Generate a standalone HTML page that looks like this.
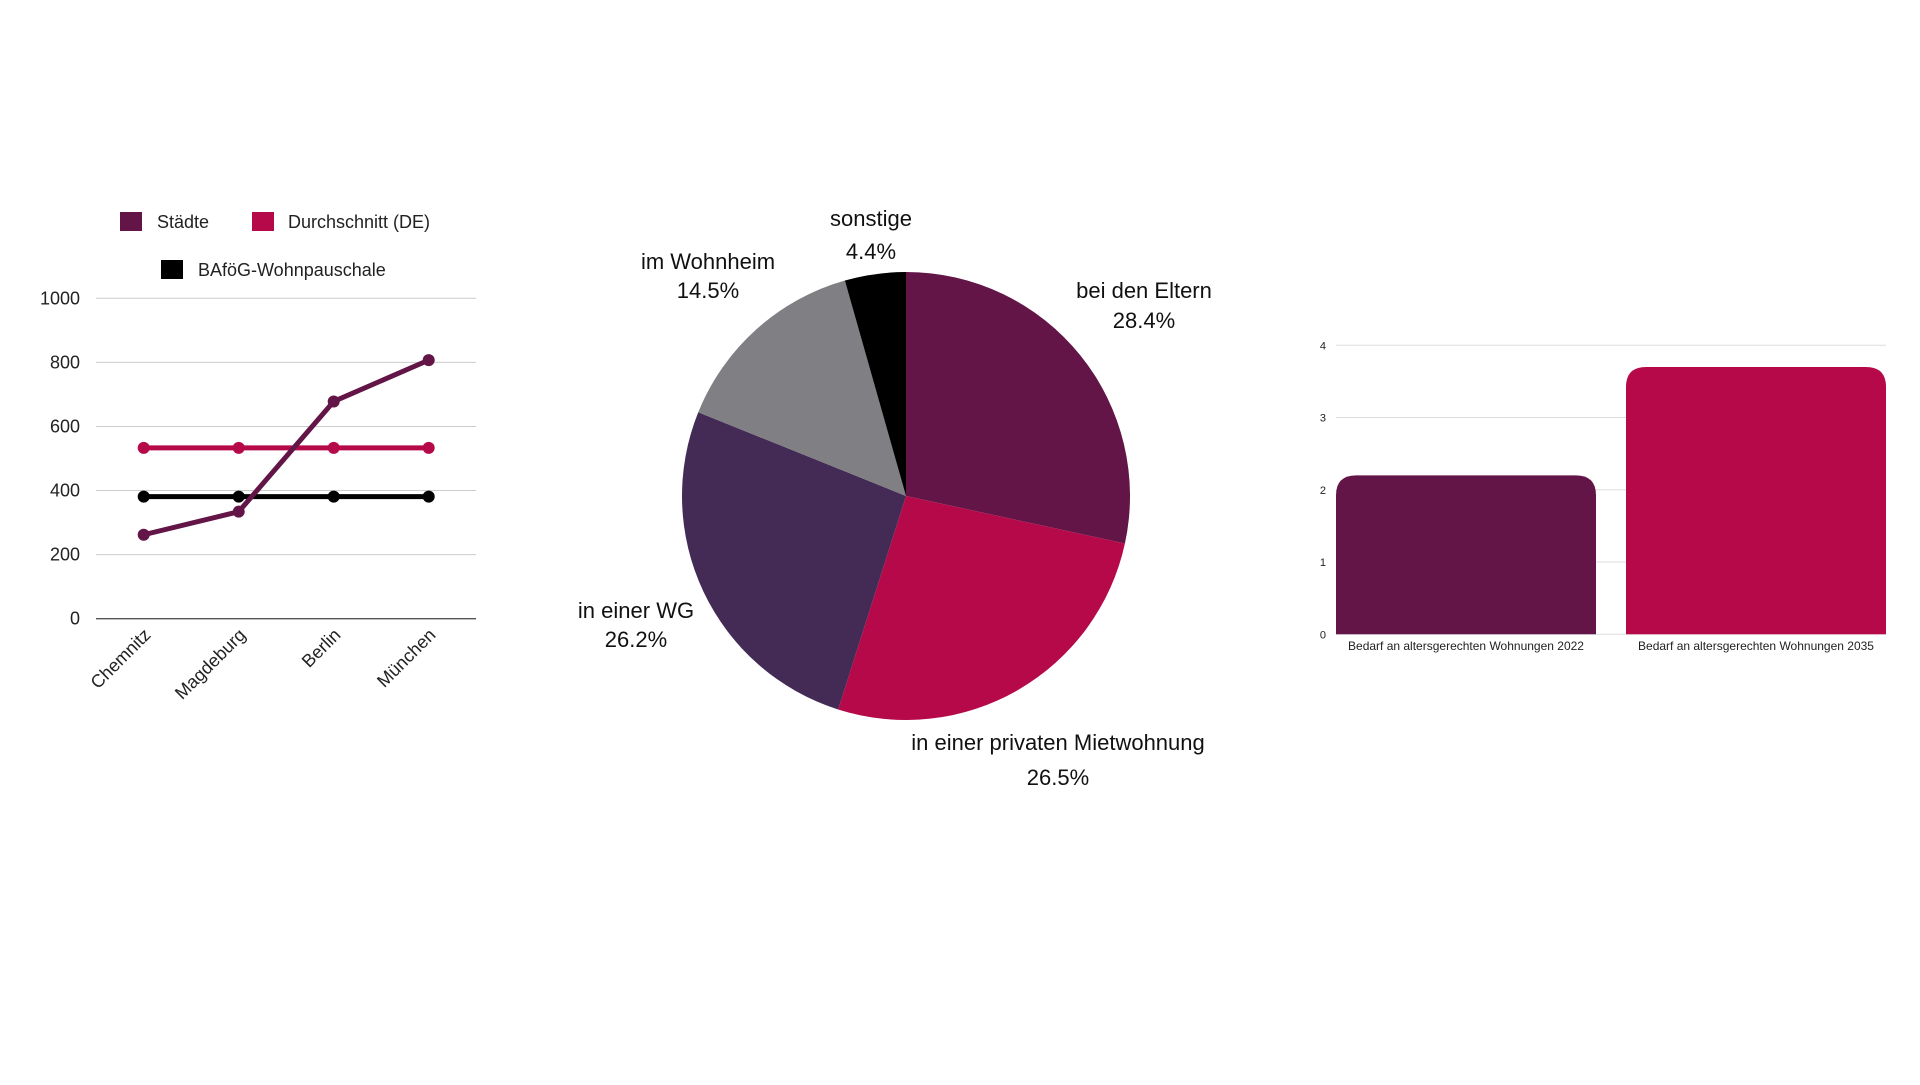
<!DOCTYPE html>
<html><head><meta charset="utf-8"><style>
body{margin:0;background:#fff;width:1920px;height:1080px;overflow:hidden;font-family:"Liberation Sans","DejaVu Sans",sans-serif}
</style></head><body>
<svg id="s" width="1920" height="1080" xmlns="http://www.w3.org/2000/svg" font-family="Liberation Sans, DejaVu Sans, sans-serif">
<g id="line"></g>
<g id="pie"></g>
<g id="bar"></g>
</svg>
<script>
const cities=["Chemnitz","Magdeburg","Berlin","München"];
const staedte=[262,334,678,807];
const durchschnitt=[533,533,533,533];
const bafoeg=[381,381,381,381];
const lineTicks=[0,200,400,600,800,1000];
const pieLabels=["bei den Eltern","in einer privaten Mietwohnung","in einer WG","im Wohnheim","sonstige"];
const pieValues=[28.4,26.5,26.2,14.5,4.4];
const barCats=["Bedarf an altersgerechten Wohnungen 2022","Bedarf an altersgerechten Wohnungen 2035"];
const barValues=[2.2,3.7];
const barTicks=[0,1,2,3,4];

const NS="http://www.w3.org/2000/svg";
function mk(p,t,a,txt){const e=document.createElementNS(NS,t);for(const k in a)e.setAttribute(k,a[k]);if(txt!=null)e.textContent=txt;p.appendChild(e);return e;}

// line chart
const L=document.getElementById('line');
const ly=v=>618.7-(v/1000)*320.4;
const lx=i=>143.7+i*95;
lineTicks.forEach(t=>{
 const g=mk(L,'line',{x1:96,x2:476,y1:ly(t),y2:ly(t),stroke:t===0?'#555':'#ccc','stroke-width':t===0?1.3:1});
 
 
 const tx=mk(L,'text',{x:80,y:ly(t)+6,'text-anchor':'end','font-size':18,fill:'#222'},t);
 
 
});
cities.forEach((c,i)=>{
 const tx=mk(L,'text',{x:lx(i)+8,y:636,'text-anchor':'end','font-size':18,fill:'#222',transform:`rotate(-45 ${lx(i)+8} 636)`},c);
 
 
});
[[bafoeg,'#000','bafoeg'],[durchschnitt,'#b5094a','durchschnitt'],[staedte,'#621546','staedte']].forEach(([arr,col,n])=>{
 const pl=mk(L,'polyline',{points:arr.map((v,i)=>lx(i)+','+ly(v)).join(' '),fill:'none',stroke:col,'stroke-width':5,'stroke-linejoin':'round'});
 
 
 arr.forEach((v,i)=>{
  const c=mk(L,'circle',{cx:lx(i),cy:ly(v),r:6,fill:col});
  
  
 });
});
[[120,212,'#621546',157,'Städte'],[252,212,'#b5094a',288,'Durchschnitt (DE)'],[161,260,'#000',198,'BAföG-Wohnpauschale']].forEach(([x,y,col,tx,t],i)=>{
 const r=mk(L,'rect',{x:x,y:y,width:22,height:19,fill:col});
 
 
 const e=mk(L,'text',{x:tx,y:y+16,'font-size':18,fill:'#222'},t);
 
 
});

// pie
const P=document.getElementById('pie');
const pieColors=["#621546","#b5094a","#432b55","#808084","#000000"];
const cx=906,cy=496,R=224;
const tot=pieValues.reduce((a,b)=>a+b,0);
let a0=0;
pieValues.forEach((v,i)=>{
 const a1=a0+v/tot*2*Math.PI;
 const p=(a)=>[cx+R*Math.sin(a),cy-R*Math.cos(a)];
 const [x0,y0]=p(a0),[x1,y1]=p(a1);
 const path=mk(P,'path',{d:`M${cx},${cy} L${x0},${y0} A${R},${R} 0 ${a1-a0>Math.PI?1:0} 1 ${x1},${y1} Z`,fill:pieColors[i]});
 
 
 a0=a1;
});
const pieLabelPos=[[1144,298,328],[1058,750,785],[636,618,647],[708,269,298],[871,226,259]];
pieLabels.forEach((l,i)=>{
 const [x,y1,y2]=pieLabelPos[i];
 const t=mk(P,'text',{x:x,y:y1,'text-anchor':'middle','font-size':22,fill:'#111'},l);
 
 
 const t2=mk(P,'text',{x:x,y:y2,'text-anchor':'middle','font-size':22,fill:'#111'},pieValues[i].toFixed(1)+'%');
 
 
});

// bar
const B=document.getElementById('bar');
const by=v=>634.3-v*72.25;
barTicks.forEach(t=>{
 const g=mk(B,'line',{x1:1336,x2:1886,y1:by(t),y2:by(t),stroke:'#ddd','stroke-width':1});
 
 
 const tx=mk(B,'text',{x:1326,y:by(t)+4,'text-anchor':'end','font-size':11,fill:'#222'},t);
 
 
});
const barColors=["#621546","#b5094a"];
barValues.forEach((v,i)=>{
 const x=1336+i*290,w=260,y=by(v),h=by(0)-y,r=20;
 const p=mk(B,'path',{d:`M${x},${y+h} L${x},${y+r} Q${x},${y} ${x+r},${y} L${x+w-r},${y} Q${x+w},${y} ${x+w},${y+r} L${x+w},${y+h} Z`,fill:barColors[i]});
 
 
 const t=mk(B,'text',{x:x+w/2,y:650,'text-anchor':'middle','font-size':12,fill:'#222'},barCats[i]);
 
 
});
</script>
</body></html>
